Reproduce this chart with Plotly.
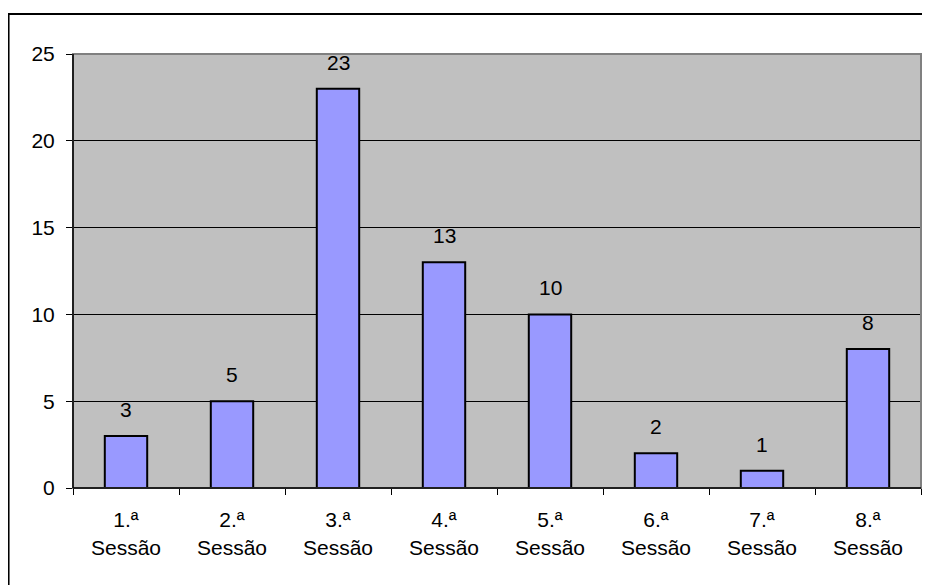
import plotly.graph_objects as go

categories = ["1.ª<br>Sessão", "2.ª<br>Sessão", "3.ª<br>Sessão", "4.ª<br>Sessão",
              "5.ª<br>Sessão", "6.ª<br>Sessão", "7.ª<br>Sessão", "8.ª<br>Sessão"]
values = [3, 5, 23, 13, 10, 2, 1, 8]
y_ticks = [0, 5, 10, 15, 20, 25]

FONT = "Liberation Sans, Arial, sans-serif"
FS = 21

fig = go.Figure()
fig.add_trace(go.Bar(
    x=categories, y=values,
    marker=dict(color="#9999FF", line=dict(color="black", width=2)),
    width=0.4,
    hoverinfo="skip",
))

for c, v in zip(categories, values):
    fig.add_annotation(x=c, y=v, text=str(v), showarrow=False,
                       yanchor="bottom", yshift=13,
                       font=dict(family=FONT, size=FS, color="black"))

fig.update_layout(
    width=930, height=585,
    margin=dict(l=65, r=17, t=46, b=105),
    paper_bgcolor="white",
    plot_bgcolor="#C0C0C0",
    showlegend=False,
    bargap=0.6,
    font=dict(family=FONT, size=FS, color="black"),
    xaxis=dict(
        type="category",
        showgrid=False,
        ticks="outside", ticklen=6, tickcolor="black",
        tickson="boundaries",
        showline=True, linecolor="black", linewidth=1,
        tickfont=dict(family=FONT, size=FS, color="black"),
        ticklabelstandoff=13,
        fixedrange=True,
    ),
    yaxis=dict(
        range=[0, 25],
        tickvals=y_ticks,
        showgrid=True, gridcolor="black", gridwidth=1,
        ticks="outside", ticklen=6, tickcolor="black",
        showline=True, linecolor="black", linewidth=1,
        zeroline=False,
        tickfont=dict(family=FONT, size=FS, color="black"),
        ticklabelstandoff=7,
        fixedrange=True,
    ),
    shapes=[
        dict(type="rect", xref="paper", yref="paper",
             x0=0, x1=1, y0=0, y1=1,
             line=dict(color="#808080", width=2), layer="above"),
        dict(type="line", xref="paper", yref="paper",
             x0=0, x1=0, y0=0, y1=1,
             line=dict(color="black", width=1.5), layer="above"),
        dict(type="line", xref="paper", yref="paper",
             x0=0, x1=1, y0=0, y1=0,
             line=dict(color="black", width=1.5), layer="above"),
        dict(type="rect", xref="paper", yref="paper",
             x0=-0.076, x1=1.2, y0=-0.5, y1=1.092,
             line=dict(color="black", width=2), layer="above"),
    ],
)

fig.write_html("out.html", config={"displayModeBar": False})
